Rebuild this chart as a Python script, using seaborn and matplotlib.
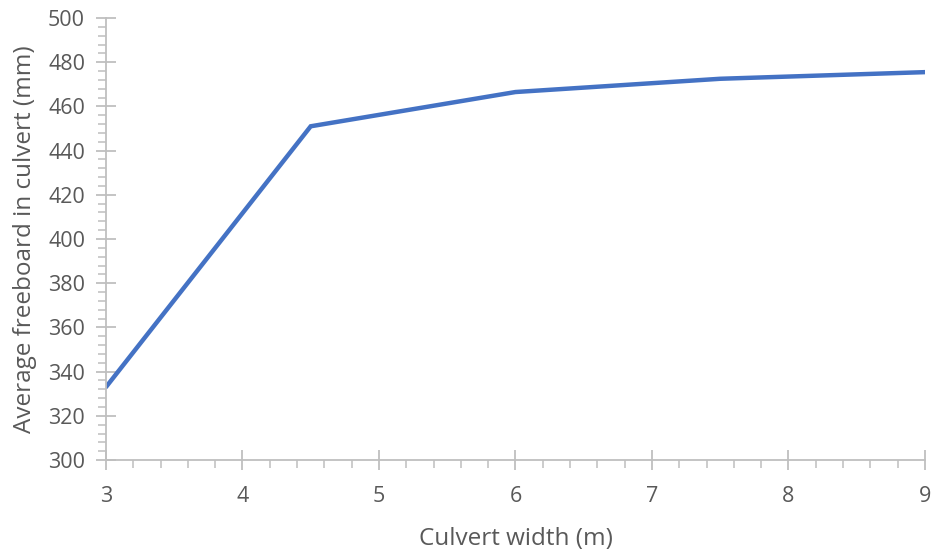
import numpy as np
import pandas as pd
import matplotlib
matplotlib.use('Agg')
import matplotlib.pyplot as plt
from matplotlib.ticker import MultipleLocator
import seaborn as sns

sns.set_style('white')
plt.rcParams['font.family'] = ['Open Sans', 'DejaVu Sans']

culvert_width = [3, 4.5, 6, 7.5, 9]
freeboard = [333, 451, 466.5, 472.5, 475.5]

df = pd.DataFrame({'width': culvert_width, 'freeboard': freeboard})

grey = '#595959'
axis_grey = '#BFBFBF'

fig = plt.figure(figsize=(9.36, 5.57), dpi=100)
ax = fig.add_axes([0.1132, 0.1741, 0.8750, 0.7936])
sns.lineplot(data=df, x='width', y='freeboard', ax=ax, color='#4472C4',
             linewidth=3.2, solid_capstyle='round', solid_joinstyle='miter')

ax.set_xlim(3, 9)
ax.set_ylim(300, 500)
ax.xaxis.set_major_locator(MultipleLocator(1))
ax.xaxis.set_minor_locator(MultipleLocator(0.2))
ax.yaxis.set_major_locator(MultipleLocator(20))
ax.yaxis.set_minor_locator(MultipleLocator(4))

for s in ['top', 'right']:
    ax.spines[s].set_visible(False)
for s in ['left', 'bottom']:
    ax.spines[s].set_color(axis_grey)
    ax.spines[s].set_linewidth(1.3)

ax.tick_params(which='both', bottom=True, left=True)
ax.tick_params(which='major', direction='inout', length=14, width=1.3,
               color=axis_grey, labelsize=15.5, labelcolor=grey)
ax.tick_params(which='minor', direction='out', length=6, width=1.1,
               color=axis_grey)
ax.tick_params(axis='x', which='major', pad=12)
ax.tick_params(axis='y', which='major', pad=8)

ax.set_xlabel('Culvert width (m)', fontsize=17.5, color=grey, labelpad=14)
ax.set_ylabel('Average freeboard in culvert (mm)', fontsize=17.5, color=grey, labelpad=8)

plt.savefig('out.png', dpi=100)
